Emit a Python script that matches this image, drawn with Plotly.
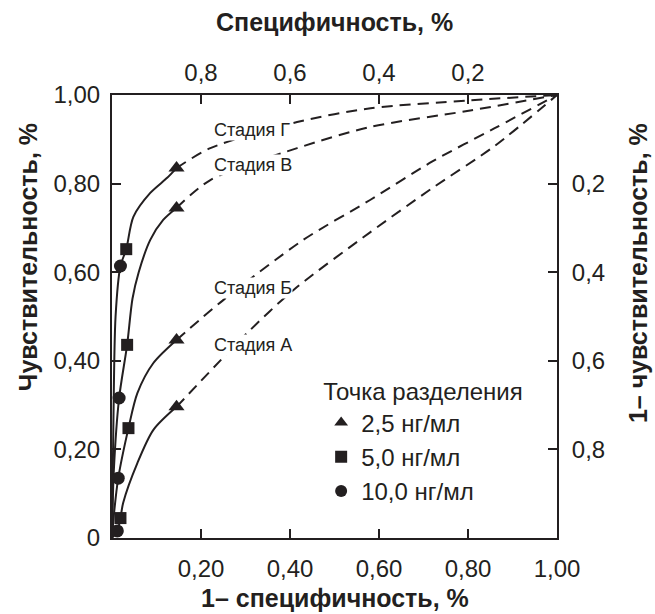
import plotly.graph_objects as go

# ---- data ----
stages = ["Стадия А", "Стадия Б", "Стадия В", "Стадия Г"]
thresholds = ["2,5 нг/мл", "5,0 нг/мл", "10,0 нг/мл"]

# cut-off points per stage (А, Б, В, Г): x = 1-specificity, y = sensitivity
tri_x = [0.145, 0.145, 0.145, 0.145]
tri_y = [0.296, 0.447, 0.745, 0.835]
sq_x = [0.019, 0.037, 0.034, 0.032]
sq_y = [0.045, 0.248, 0.436, 0.652]
circ_x = [0.012, 0.014, 0.016, 0.019]
circ_y = [0.016, 0.135, 0.316, 0.614]

# solid (observed) ROC segments
solid_a_x = [0, 0.012, 0.019, 0.025, 0.057, 0.093, 0.145]
solid_a_y = [0, 0.016, 0.045, 0.079, 0.169, 0.244, 0.296]
solid_b_x = [0, 0.004, 0.014, 0.037, 0.057, 0.093, 0.145]
solid_b_y = [0, 0.05, 0.135, 0.248, 0.327, 0.395, 0.447]
solid_v_x = [0, 0.004, 0.016, 0.034, 0.046, 0.060, 0.086, 0.115, 0.145]
solid_v_y = [0, 0.15, 0.316, 0.436, 0.54, 0.60, 0.673, 0.718, 0.745]
solid_g_x = [0, 0.003, 0.008, 0.019, 0.032, 0.048, 0.086, 0.124, 0.145]
solid_g_y = [0, 0.25, 0.50, 0.614, 0.652, 0.725, 0.779, 0.813, 0.835]

# dashed (extrapolated) ROC segments
dash_a_x = [0.145, 0.304, 0.408, 0.58, 0.72, 0.86, 1.0]
dash_a_y = [0.296, 0.463, 0.56, 0.69, 0.79, 0.885, 1.0]
dash_b_x = [0.145, 0.25, 0.43, 0.58, 0.72, 0.86, 1.0]
dash_b_y = [0.447, 0.537, 0.673, 0.763, 0.85, 0.925, 1.0]
dash_v_x = [0.145, 0.221, 0.416, 0.581, 0.805, 1.0]
dash_v_y = [0.745, 0.808, 0.88, 0.928, 0.965, 1.0]
dash_g_x = [0.145, 0.221, 0.416, 0.581, 0.805, 1.0]
dash_g_y = [0.835, 0.88, 0.939, 0.97, 0.988, 1.0]

# axis ticks
bottom_vals = [0.2, 0.4, 0.6, 0.8, 1.0]
bottom_text = ["0,20", "0,40", "0,60", "0,80", "1,00"]
left_vals = [0, 0.2, 0.4, 0.6, 0.8, 1.0]
left_text = ["0", "0,20", "0,40", "0,60", "0,80", "1,00"]
top_vals = [0.2, 0.4, 0.6, 0.8]
top_text = ["0,8", "0,6", "0,4", "0,2"]
right_vals = [0.2, 0.4, 0.6, 0.8]
right_text = ["0,8", "0,6", "0,4", "0,2"]

FONT = "Liberation Sans, Arial, Helvetica, sans-serif"
BLACK = "#231f20"

fig = go.Figure()

solids = [(solid_a_x, solid_a_y), (solid_b_x, solid_b_y), (solid_v_x, solid_v_y), (solid_g_x, solid_g_y)]
dashes = [(dash_a_x, dash_a_y), (dash_b_x, dash_b_y), (dash_v_x, dash_v_y), (dash_g_x, dash_g_y)]

for (sx, sy), (dx, dy) in zip(solids, dashes):
    fig.add_trace(go.Scatter(x=sx, y=sy, mode="lines", showlegend=False, hoverinfo="skip",
                             line=dict(color=BLACK, width=2, shape="spline", smoothing=0.8)))
    fig.add_trace(go.Scatter(x=dx, y=dy, mode="lines", showlegend=False, hoverinfo="skip",
                             line=dict(color=BLACK, width=2, dash="11px,7px", shape="spline", smoothing=0.8)))

# stage labels (white background hides dashes beneath)
label_pos = {"Стадия Г": (0.226, 0.921), "Стадия В": (0.226, 0.842),
             "Стадия Б": (0.226, 0.564), "Стадия А": (0.226, 0.436)}
for s in stages:
    lx, ly = label_pos[s]
    fig.add_annotation(x=lx, y=ly, text=s, showarrow=False, xanchor="left", yanchor="middle",
                       bgcolor="white", borderpad=0,
                       font=dict(family=FONT, size=18, color=BLACK))

marker_sets = [(tri_x, tri_y, "triangle-up", 14), (sq_x, sq_y, "square", 12), (circ_x, circ_y, "circle", 13)]
for name, (mx, my, sym, sz) in zip(thresholds, marker_sets):
    fig.add_trace(go.Scatter(x=mx, y=my, mode="markers", name=name, cliponaxis=False,
                             marker=dict(symbol=sym, size=sz, color=BLACK, line=dict(width=0))))

# invisible trace to carry secondary axes
fig.add_trace(go.Scatter(x=[0, 1], y=[0, 1], xaxis="x2", yaxis="y2", mode="markers",
                         marker=dict(opacity=0), showlegend=False, hoverinfo="skip"))

axis_common = dict(range=[0, 1], showgrid=False, zeroline=False, showline=True,
                   linecolor=BLACK, linewidth=2, ticks="inside", ticklen=9, tickwidth=1.5,
                   tickcolor=BLACK, tickfont=dict(family=FONT, size=24, color=BLACK), fixedrange=True)

fig.update_layout(
    width=655, height=614,
    margin=dict(l=112, r=98, t=95, b=76),
    plot_bgcolor="white", paper_bgcolor="white",
    xaxis=dict(**axis_common, tickvals=bottom_vals, ticktext=bottom_text, ticklabelstandoff=8),
    yaxis=dict(**axis_common, tickvals=left_vals, ticktext=left_text, ticklabelstandoff=5),
    xaxis2=dict(**axis_common, overlaying="x", side="top", tickvals=top_vals, ticktext=top_text,
                ticklabelstandoff=2),
    yaxis2=dict(**axis_common, overlaying="y", side="right", tickvals=right_vals, ticktext=right_text,
                ticklabelstandoff=8),
    legend=dict(x=0.47, y=0.381, xanchor="left", yanchor="top", bgcolor="rgba(0,0,0,0)",
                title=dict(text="Точка разделения", font=dict(family=FONT, size=24, color=BLACK)),
                font=dict(family=FONT, size=24, color=BLACK), itemsizing="constant",
                tracegroupgap=0),
    showlegend=True,
)

title_font = dict(family=FONT, size=25, color=BLACK, weight="bold")
fig.add_annotation(text="Специфичность, %", x=0.5, y=1, xref="paper", yref="paper",
                   yshift=73, showarrow=False, font=title_font, yanchor="middle")
fig.add_annotation(text="1– специфичность, %", x=0.5, y=0, xref="paper", yref="paper",
                   yshift=-60, showarrow=False, font=title_font, yanchor="middle")
fig.add_annotation(text="Чувствительность, %", x=0, y=0.634, xref="paper", yref="paper",
                   xshift=-84, showarrow=False, font=title_font, textangle=-90, xanchor="center")
fig.add_annotation(text="1– чувствительность, %", x=1, y=0.598, xref="paper", yref="paper",
                   xshift=81, showarrow=False, font=title_font, textangle=-90, xanchor="center")

fig.write_html("out.html")
